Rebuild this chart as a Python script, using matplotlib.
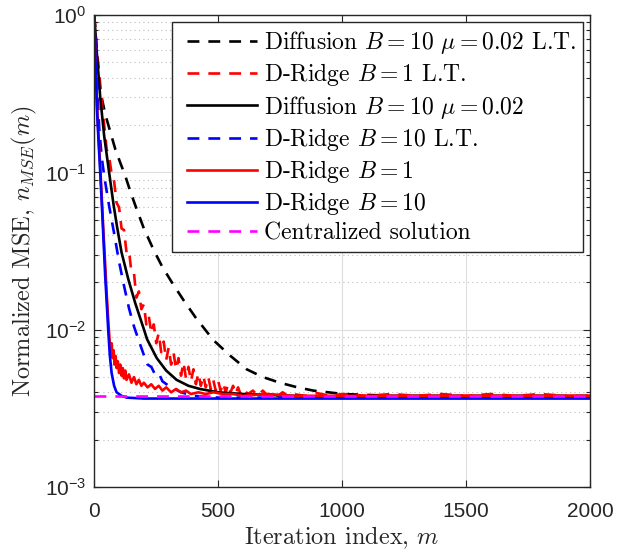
import matplotlib
matplotlib.use('Agg')
import matplotlib.pyplot as plt
from matplotlib.ticker import LogLocator, NullFormatter
from matplotlib.legend_handler import HandlerLine2D

# ---------------- data ----------------
diff_lt_m = [0, 10, 24, 44, 65, 85, 105, 125, 145, 165, 200, 240, 275, 313, 359, 408, 480,
             550, 615, 680, 749, 820, 884, 1005, 1100, 1200, 1400, 1700, 2000]
diff_lt_v = [1.0, 0.58, 0.33, 0.235, 0.18, 0.14, 0.115, 0.095, 0.076, 0.062, 0.044, 0.032,
             0.025, 0.020, 0.0155, 0.012, 0.0086, 0.0068, 0.0056, 0.0050, 0.0046, 0.0043,
             0.0041, 0.0039, 0.00385, 0.0038, 0.0038, 0.0038, 0.0038]

dr1_lt_m = [0, 10, 20, 30, 40, 50, 60, 70, 80, 90, 100, 110, 120, 130, 140, 150, 160, 170,
            180, 190, 200, 210, 220, 230, 240, 250, 260, 270, 280, 290, 300, 310, 320, 330,
            340, 350, 360, 370, 380, 390, 400, 410, 420, 430, 440, 450, 460, 470, 480, 490,
            500, 510, 520, 530, 540, 550, 560, 570, 580, 590, 600, 620, 640, 660, 680, 700,
            720, 740, 760, 780, 800, 850, 900, 950, 1000, 1100, 1200, 1300, 1400, 1500,
            1600, 1700, 1800, 1900, 2000]
dr1_lt_v = [1.0, 0.60, 0.43, 0.28, 0.20, 0.14, 0.125, 0.098, 0.088, 0.064, 0.060, 0.044,
            0.043, 0.031, 0.032, 0.023, 0.023, 0.016, 0.0175, 0.0135, 0.0145, 0.0108, 0.0122,
            0.0095, 0.0108, 0.0082, 0.0095, 0.0072, 0.0084, 0.0064, 0.0077, 0.0060, 0.0071,
            0.0056, 0.0066, 0.0051, 0.0062, 0.0049, 0.0058, 0.0047, 0.0056, 0.0045, 0.0053,
            0.0044, 0.0051, 0.0043, 0.0050, 0.0042, 0.0048, 0.0041, 0.0047, 0.0041, 0.0046,
            0.0040, 0.0045, 0.0040, 0.0044, 0.0039, 0.0043, 0.0039, 0.0042, 0.0039, 0.0041,
            0.0038, 0.0041, 0.0038, 0.0040, 0.0038, 0.0040, 0.0038, 0.0039, 0.0038, 0.00395,
            0.0038, 0.0039, 0.0038, 0.0039, 0.0038, 0.0039, 0.0038, 0.0039, 0.0038, 0.0039,
            0.0038, 0.0038]

diff_m = [0, 10, 24, 40, 58, 78, 92, 110, 125, 137, 165, 198, 213, 252, 290, 332, 380, 426,
          500, 600, 800, 1000, 2000]
diff_v = [1.0, 0.58, 0.30, 0.17, 0.105, 0.062, 0.045, 0.031, 0.025, 0.021, 0.0148, 0.0103,
          0.0087, 0.0066, 0.0055, 0.0048, 0.0044, 0.0042, 0.0040, 0.0039, 0.0038, 0.0037,
          0.0037]

dr10_lt_m = [0, 10, 20, 30, 40, 50, 60, 80, 100, 120, 140, 160, 180, 200, 215, 230, 245,
             260, 275, 300, 350, 400, 500, 2000]
dr10_lt_v = [1.0, 0.40, 0.19, 0.125, 0.095, 0.076, 0.061, 0.041, 0.027, 0.019, 0.0137,
             0.0105, 0.0085, 0.0069, 0.0060, 0.0058, 0.0052, 0.0053, 0.0047, 0.0044, 0.0040,
             0.0038, 0.0037, 0.0037]

dr1_m = [0, 5, 11, 17, 24, 30, 37, 44, 50, 57, 62, 66, 70, 74, 78, 82, 86, 90, 95, 100, 105,
         110, 115, 120, 125, 130, 140, 150, 160, 170, 180, 190, 200, 215, 230, 245, 260, 275,
         290, 310, 330, 350, 370, 390, 420, 450, 480, 520, 560, 600, 700, 800, 1000, 1200,
         1500, 2000]
dr1_v = [1.0, 0.52, 0.27, 0.17, 0.11, 0.07, 0.042, 0.026, 0.017, 0.011, 0.0085, 0.0072,
         0.0082, 0.0066, 0.0074, 0.0060, 0.0068, 0.0057, 0.0063, 0.0053, 0.0060, 0.0051,
         0.0057, 0.0049, 0.0055, 0.0048, 0.0052, 0.0046, 0.0050, 0.0045, 0.0048, 0.0044,
         0.0046, 0.0043, 0.0045, 0.0042, 0.0044, 0.0041, 0.0043, 0.0040, 0.0042, 0.0040,
         0.0041, 0.0039, 0.0040, 0.0039, 0.0040, 0.0039, 0.0039, 0.0038, 0.0039, 0.0038,
         0.0038, 0.0038, 0.0038, 0.0038]

dr10_m = [0, 5, 11, 17, 24, 30, 37, 44, 50, 57, 63, 70, 80, 90, 110, 131, 200, 2000]
dr10_v = [1.0, 0.50, 0.25, 0.16, 0.10, 0.065, 0.038, 0.022, 0.015, 0.0095, 0.0068, 0.0053,
          0.0044, 0.0040, 0.0038, 0.0037, 0.00365, 0.00365]

central_m = [0, 2000]
central_v = [0.0038, 0.0038]

labels = [r'Diffusion $B=10$ $\mu=0.02$ L.T.',
          r'D-Ridge $B=1$ L.T.',
          r'Diffusion $B=10$ $\mu=0.02$',
          r'D-Ridge $B=10$ L.T.',
          r'D-Ridge $B=1$',
          r'D-Ridge $B=10$',
          'Centralized solution']

x_ticks = [0, 500, 1000, 1500, 2000]

# ---------------- style ----------------
plt.rcParams['font.family'] = ['Liberation Sans', 'DejaVu Sans']
plt.rcParams['mathtext.fontset'] = 'cm'

AX = '#262626'
DASH = (0, (4.5, 3.4))
LW = 1.9

fig = plt.figure(figsize=(6.26, 5.5), dpi=100)
ax = fig.add_axes([0.1506, 0.1145, 0.7919, 0.8582])

series = [
    (diff_lt_m, diff_lt_v, 'black', DASH),
    (dr1_lt_m, dr1_lt_v, 'red', DASH),
    (diff_m, diff_v, 'black', '-'),
    (dr10_lt_m, dr10_lt_v, 'blue', DASH),
    (dr1_m, dr1_v, 'red', '-'),
    (dr10_m, dr10_v, 'blue', '-'),
    (central_m, central_v, 'magenta', DASH),
]
handles = []
for (m, v, c, ls), lab in zip(series, labels):
    h, = ax.plot(m, v, color=c, ls=ls, lw=LW, label=lab)
    handles.append(h)

ax.set_yscale('log')
ax.set_xlim(0, 2000)
ax.set_ylim(1e-3, 1)
ax.set_xticks(x_ticks)
ax.yaxis.set_major_locator(LogLocator(base=10, numticks=10))
ax.yaxis.set_minor_locator(LogLocator(base=10, subs=range(2, 10), numticks=20))
ax.yaxis.set_minor_formatter(NullFormatter())

ax.set_axisbelow(True)
ax.grid(True, which='major', color='#dedede', lw=0.8, ls='-')
ax.grid(True, which='minor', axis='y', color='#bdbdbd', lw=0.8, ls=(0, (1, 3)))

ax.tick_params(which='both', direction='in', top=True, right=True, color=AX,
               labelcolor=AX, labelsize=15, width=0.8)
ax.tick_params(which='major', length=5)
ax.tick_params(axis='x', which='major', pad=11)
ax.tick_params(axis='y', which='major', pad=6)
ax.tick_params(which='minor', length=3)
for s in ax.spines.values():
    s.set_color(AX)
    s.set_linewidth(1.0)

ax.set_xlabel(r'Iteration index, $m$', fontfamily='cmr10', fontsize=17.5, color=AX,
              labelpad=2)
ax.set_ylabel(r'Normalized MSE, $n_{MSE}(m)$', fontfamily='cmr10', fontsize=17.5, color=AX,
              labelpad=4)

hmap = {h: HandlerLine2D(xpad=0.34) for h in handles}
leg = ax.legend(handles=handles, loc='upper right', prop={'family': 'cmr10', 'size': 17},
                frameon=True, fancybox=False, framealpha=1, edgecolor=AX,
                handlelength=3.3, handletextpad=0.28, labelspacing=0.22,
                borderpad=0.3, borderaxespad=0.3, handler_map=hmap)
leg.get_frame().set_linewidth(1.0)

fig.savefig('out.png', dpi=100)
